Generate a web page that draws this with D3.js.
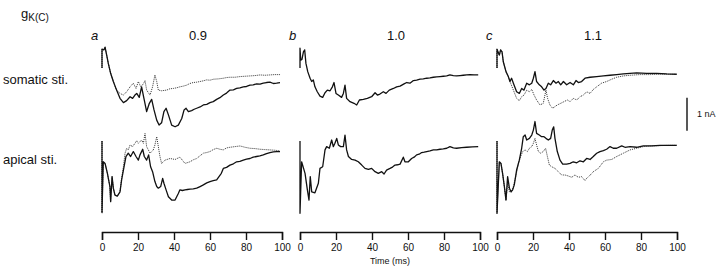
<!DOCTYPE html>
<html>
<head>
<meta charset="utf-8">
<script src="https://cdn.jsdelivr.net/npm/d3@7"></script>
<style>
  body { margin: 0; background: #fff; }
  text { font-family: "Liberation Sans", Arial, sans-serif; fill: #111; }
</style>
</head>
<body>
<div id="container"></div>
<script>
let w = 720;
let h = 270;

// time ticks (ms)
let timeTicks = [0, 20, 40, 60, 80, 100];
let panelLetters = ['a', 'b', 'c'];
let panelRatios = ['0.9', '1.0', '1.1'];
let rowLabels = ['somatic sti.', 'apical sti.'];

// traces: [time (ms), current (nA)]
let somaA = [[0,0],[0,0.57],[1.1,0.55],[1.7,0.63],[2.6,0.39],[3.5,0.14],[4.8,-0.16],[6.3,-0.41],[8.1,-0.67],[10,-0.92],[11.9,-1.05],[13.7,-0.99],[15.6,-0.87],[17,-0.92],[18.3,-0.82],[19.3,-0.77],[20.7,-0.89],[22,-0.57],[23.3,-0.92],[24.8,-1.32],[26.3,-1.07],[27.6,-0.95],[28.9,-1.27],[30.4,-1.58],[31.7,-1.73],[33.1,-1.66],[34.4,-1.32],[35.6,-1.22],[36.9,-1.42],[38.7,-1.73],[40.6,-1.78],[42.4,-1.73],[44.3,-1.53],[45.6,-1.27],[46.7,-1.22],[48,-1.32],[49.8,-1.29],[51.2,-1.25],[52.6,-1.22],[54.5,-1.18],[56.3,-1.12],[58.2,-1.1],[60,-1.05],[61.8,-1.02],[63.7,-0.95],[65.5,-0.9],[67.4,-0.82],[69.2,-0.76],[71.1,-0.67],[73,-0.66],[74.8,-0.62],[76.6,-0.6],[78.5,-0.57],[80.3,-0.56],[82.2,-0.52],[84,-0.51],[85.9,-0.48],[87.8,-0.49],[89.6,-0.46],[91.4,-0.44],[93.3,-0.43],[95.2,-0.47],[97,-0.46],[98.9,-0.44]];
let somaA2 = [[0,0],[0,0.57],[1.1,0.55],[1.7,0.63],[2.6,0.39],[3.5,0.14],[4.8,-0.16],[6.3,-0.41],[8.1,-0.67],[10,-0.77],[11.9,-0.82],[13.7,-0.72],[15.6,-0.57],[17.4,-0.46],[18.9,-0.62],[20.2,-0.41],[21.5,-0.57],[23,-0.48],[23.9,-0.38],[24.8,-0.67],[26.7,-0.82],[28.1,-0.57],[29.4,-0.21],[30.4,-0.41],[31.3,-0.67],[33.1,-0.69],[35.9,-0.67],[37.7,-0.63],[39.6,-0.62],[41.5,-0.6],[43.3,-0.57],[45.1,-0.55],[47,-0.52],[48.8,-0.47],[50.7,-0.44],[52.6,-0.43],[54.4,-0.41],[56.2,-0.39],[58.1,-0.36],[60,-0.37],[61.9,-0.34],[64.6,-0.33],[67.4,-0.31],[69.2,-0.29],[71.1,-0.28],[73.9,-0.28],[76.7,-0.26],[79.4,-0.25],[82.2,-0.24],[85,-0.23],[87.8,-0.21],[90.5,-0.22],[93.3,-0.21],[96,-0.2],[98.9,-0.2]];
let apicA = [[0,0],[0,-2.17],[0.7,-0.63],[1.7,-0.68],[3,-0.98],[4.4,-1.38],[4.8,-1.84],[5.6,-1.08],[6.3,-1.43],[7.2,-1.64],[8.5,-1.67],[10,-1.54],[10.9,-1.18],[11.9,-0.88],[13.3,-0.47],[14.6,-0.37],[15.9,-0.47],[17.4,-0.32],[18.9,-0.47],[20.2,-0.58],[21.1,-0.42],[22.6,-0.25],[23.5,-0.47],[24.8,-0.58],[25.9,-0.42],[27,-0.78],[28.1,-0.93],[29.4,-1.23],[30.4,-1.38],[31.3,-1.43],[32.6,-1.38],[33.7,-1.13],[34.4,-1.28],[35.6,-1.48],[36.9,-1.69],[38.7,-1.79],[40.6,-1.79],[42.4,-1.59],[43.3,-1.48],[44.7,-1.5],[46.1,-1.48],[47.5,-1.47],[48.9,-1.46],[50.7,-1.45],[52.6,-1.43],[54.5,-1.38],[56.3,-1.33],[58.2,-1.27],[60,-1.23],[61.8,-1.2],[63.7,-1.18],[65,-1.08],[66.3,-0.98],[67.4,-0.83],[69.2,-0.8],[71.1,-0.73],[73,-0.69],[74.8,-0.63],[76.6,-0.62],[78.5,-0.58],[80.3,-0.55],[82.2,-0.53],[84,-0.49],[85.9,-0.47],[87.7,-0.45],[89.6,-0.42],[91.4,-0.38],[93.3,-0.35],[95.2,-0.33],[97,-0.32],[98.9,-0.32]];
let apicA2 = [[0,0],[0,-2.17],[0.7,-0.63],[1.7,-0.68],[3,-0.98],[4.4,-1.38],[4.8,-1.84],[5.6,-1.08],[6.3,-1.43],[7.2,-1.64],[8.5,-1.67],[10,-1.54],[10.9,-1.13],[11.9,-0.78],[12.8,-0.37],[13.7,-0.22],[14.6,-0.27],[15.6,-0.12],[17,-0.17],[18.3,-0.07],[19.3,0.01],[20.2,-0.07],[21.1,-0.02],[22,0.03],[23,-0.07],[23.9,0.23],[24.8,-0.17],[26.7,-0.37],[28.5,-0.27],[29.4,-0.12],[30.4,0.13],[31.3,-0.17],[32.2,-0.47],[33.1,-0.68],[35,-0.58],[37.8,-0.53],[40.6,-0.56],[43.3,-0.49],[46.1,-0.68],[48.9,-0.63],[50.7,-0.57],[52.6,-0.53],[54.4,-0.45],[56.3,-0.37],[58.1,-0.35],[60,-0.32],[61.8,-0.26],[63.7,-0.22],[65.5,-0.25],[67.4,-0.27],[69.2,-0.21],[71.1,-0.19],[73.9,-0.17],[76.7,-0.15],[79.4,-0.19],[82.2,-0.22],[85,-0.23],[87.8,-0.25],[90.5,-0.26],[93.3,-0.27],[96,-0.28],[98.9,-0.3]];

let somaB = [[0,0],[0,0.6],[0.4,0.24],[1.1,0.26],[1.9,0.49],[2.6,0.55],[3.3,0.14],[4.3,-0.11],[5.6,-0.31],[6.5,-0.41],[7.4,-0.36],[8.3,-0.57],[9.6,-0.72],[11.1,-0.85],[12.6,-0.89],[13.9,-0.75],[15.2,-0.67],[16.7,-0.69],[18,-0.57],[18.9,-0.44],[20,-0.77],[21.3,-0.82],[23.1,-0.89],[24.1,-0.77],[25,-0.52],[25.9,-0.92],[27.8,-1.02],[30,-1.07],[31.5,-1.12],[33,-0.97],[35.2,-0.95],[37.4,-0.92],[39.8,-0.87],[41.7,-0.75],[43,-0.82],[44.4,-0.79],[46.3,-0.72],[47.8,-0.77],[49.6,-0.67],[51.9,-0.62],[53.7,-0.57],[55.6,-0.55],[57.8,-0.48],[59.3,-0.44],[61.1,-0.46],[63,-0.38],[64.8,-0.37],[66.7,-0.34],[68.5,-0.33],[70.4,-0.31],[72.2,-0.3],[74.1,-0.28],[75.9,-0.27],[77.8,-0.26],[79.6,-0.25],[81.5,-0.24],[83.3,-0.21],[85.2,-0.23],[87,-0.24],[88.9,-0.23],[90.7,-0.22],[92.6,-0.21],[94.4,-0.2],[96.7,-0.21],[99,-0.21]];
let apicB = [[0,0],[0,-2.19],[0.9,-0.63],[2.8,-0.98],[4.1,-1.48],[5,-1.79],[5.7,-1.08],[6.5,-1.54],[8.3,-1.57],[10.2,-1.28],[11.1,-0.83],[12.6,-0.78],[13.9,-0.27],[14.8,-0.17],[16.3,-0.22],[17.6,0.03],[18.5,-0.17],[19.4,-0.07],[20.4,0.08],[21.3,-0.12],[22.6,-0.17],[24.1,-0.17],[25,0.18],[25.9,-0.27],[26.9,-0.47],[28.7,-0.56],[30.6,-0.58],[32.4,-0.63],[34.3,-0.73],[36.1,-0.83],[38,-0.86],[39.8,-0.83],[41.7,-0.93],[43.5,-0.98],[45.4,-0.93],[46.7,-1],[48.1,-0.88],[50,-0.83],[51.4,-0.79],[52.8,-0.73],[54.2,-0.72],[55.6,-0.7],[57.4,-0.49],[58.3,-0.63],[60.2,-0.63],[62,-0.53],[63.4,-0.49],[64.8,-0.42],[66.2,-0.4],[67.6,-0.35],[69,-0.34],[70.4,-0.32],[72.2,-0.3],[74.1,-0.27],[75.9,-0.27],[77.8,-0.25],[79.6,-0.24],[81.5,-0.22],[83.3,-0.17],[85.2,-0.21],[87,-0.22],[89.8,-0.2],[92.6,-0.19],[95.8,-0.18],[99,-0.17]];

let somaC = [[0,0],[0,0.57],[1.3,0.39],[2,0.55],[2.8,0.49],[3.5,0.19],[5,-0.11],[6.3,-0.26],[7.2,-0.41],[8.1,-0.31],[9.1,-0.46],[10.9,-0.72],[12.4,-0.77],[13.7,-0.62],[15,-0.67],[16.5,-0.46],[18,-0.51],[19.3,-0.46],[20.2,-0.31],[21.1,-0.11],[22,-0.41],[23.5,-0.51],[24.8,-0.57],[26.1,-0.67],[27.2,-0.62],[28.5,-0.46],[29.8,-0.51],[31.3,-0.38],[32.8,-0.46],[34.1,-0.41],[35.4,-0.51],[36.9,-0.41],[38.7,-0.51],[40.6,-0.44],[42.4,-0.51],[43.9,-0.38],[45.2,-0.44],[47,-0.41],[48.9,-0.31],[51.7,-0.28],[55.4,-0.26],[59.1,-0.24],[62.8,-0.22],[66.5,-0.2],[70.2,-0.18],[73.9,-0.16],[77.6,-0.15],[83.1,-0.16],[88.7,-0.16],[94.3,-0.18],[99.8,-0.19]];
let somaC2 = [[0,0],[0,0.57],[1.3,0.39],[2,0.55],[2.8,0.49],[3.5,0.19],[5,-0.11],[6.3,-0.26],[7.2,-0.41],[9.1,-0.67],[10.9,-0.92],[12.4,-0.99],[13.7,-0.87],[15,-0.82],[16.5,-0.67],[18,-0.72],[19.3,-0.65],[20.6,-0.82],[22,-0.97],[23.9,-1.12],[25.7,-1.07],[27.2,-0.67],[28.1,-0.92],[29.4,-1.12],[30.9,-1.22],[32.2,-1.17],[33.5,-1.12],[35.4,-1.07],[37.2,-1.02],[39.1,-0.97],[40.6,-1.02],[42.4,-0.92],[44.3,-0.97],[46.1,-0.87],[48,-0.82],[49.8,-0.72],[51.7,-0.77],[53.5,-0.65],[55.4,-0.57],[58.1,-0.46],[60.9,-0.41],[63.7,-0.34],[66.5,-0.28],[70.2,-0.24],[73.9,-0.22],[79.4,-0.2],[85,-0.2],[90.6,-0.19],[96.1,-0.19],[99.8,-0.19]];
let apicC = [[0,0],[0,-2.19],[1.3,-0.63],[2.2,-0.68],[3.1,-0.98],[4.1,-1.38],[5,-1.79],[5.9,-1.08],[6.9,-1.43],[7.8,-1.54],[8.7,-1.48],[9.6,-1.33],[10.9,-0.88],[12.4,-0.58],[13.7,-0.22],[14.6,0.13],[15.6,0.18],[16.5,0.03],[18,0.08],[19.3,0.18],[20.2,0.33],[21.1,0.59],[22,0.23],[23.5,0.18],[24.8,0.13],[26.1,0.13],[27.2,0.08],[28.5,0.03],[29.8,0.08],[30.7,0.33],[31.5,0.43],[32.2,0.08],[33.5,-0.32],[35,-0.58],[36.5,-0.7],[38.7,-0.7],[40.6,-0.68],[42.4,-0.63],[44.3,-0.66],[46.1,-0.6],[48,-0.63],[49.8,-0.53],[51.7,-0.56],[53.5,-0.47],[55.4,-0.37],[57.2,-0.32],[59.1,-0.29],[60.9,-0.25],[62.8,-0.17],[64.6,-0.22],[66.5,-0.22],[69.3,-0.15],[71.1,-0.19],[73.9,-0.17],[77.6,-0.19],[81.3,-0.15],[85.9,-0.15],[90.6,-0.13],[96.1,-0.13],[99.8,-0.13]];
let apicC2 = [[0,0],[0,-2.19],[1.3,-0.63],[2.2,-0.68],[3.1,-0.98],[4.1,-1.38],[5,-1.79],[5.9,-1.28],[6.9,-1.54],[8.1,-1.54],[9.1,-1.38],[10.6,-1.03],[11.9,-0.68],[13.1,-0.47],[14.3,-0.32],[15.6,-0.27],[16.9,-0.32],[18,-0.22],[19.3,-0.17],[20.2,-0.07],[21.1,0.08],[22,-0.12],[23,-0.32],[24.3,-0.37],[25.7,-0.32],[27,-0.22],[28,-0.47],[29.1,-0.73],[30.4,-0.78],[32.2,-0.83],[34.1,-0.93],[35.9,-1.03],[37.8,-1.03],[39.6,-1.06],[41.5,-1.1],[43.3,-1.03],[45.2,-1.1],[47,-1.08],[48.9,-1.2],[49.8,-1.13],[51.3,-1.06],[53.5,-0.93],[56.3,-0.83],[59.1,-0.63],[60.9,-0.58],[63.7,-0.56],[66.5,-0.47],[70.2,-0.37],[73.9,-0.27],[77.6,-0.22],[81.3,-0.17],[85.9,-0.15],[90.6,-0.14],[96.1,-0.13],[99.8,-0.13]];

// one entry per panel: [solid, dotted] for each row
let somaTraces = [[somaA, somaA2], [somaB, null], [somaC, somaC2]];
let apicTraces = [[apicA, apicA2], [apicB, null], [apicC, apicC2]];

let panelX = [102, 300, 497];
let panelW = 180;
let rowZero = [68, 141];
let pxPerNA = 33;

let viz = d3.select("#container")
  .append("svg")
  .attr("width", w)
  .attr("height", h);

// y scales, one per row (current in nA)
let yScales = rowZero.map(z => d3.scaleLinear().domain([-2, 1]).range([z + 2 * pxPerNA, z - pxPerNA]));

// title
let title = viz.append('text').attr('x', 21).attr('y', 18).attr('font-size', 13);
title.append('tspan').text('g');
title.append('tspan').attr('font-size', 10).attr('dy', 3).text('K(C)');

// row labels
viz.append('text').attr('x', 3).attr('y', 84).attr('font-size', 13).text(rowLabels[0]);
viz.append('text').attr('x', 3).attr('y', 164).attr('font-size', 13).text(rowLabels[1]);

let line = d3.line();

for (let i = 0; i < 3; i++) {
  let xScale = d3.scaleLinear().domain([0, 100]).range([panelX[i], panelX[i] + panelW]);

  viz.append('text')
    .attr('x', panelX[i] - 11).attr('y', 40)
    .attr('font-size', 13).attr('font-style', 'italic')
    .text(panelLetters[i]);
  viz.append('text')
    .attr('x', panelX[i] + panelW / 2 + 6).attr('y', 40)
    .attr('font-size', 13).attr('text-anchor', 'middle')
    .text(panelRatios[i]);

  let rows = [somaTraces[i], apicTraces[i]];
  rows.forEach((pair, r) => {
    let y = yScales[r];
    line.x(d => xScale(d[0])).y(d => y(d[1]));
    if (pair[1]) {
      viz.append('path')
        .attr('d', line(pair[1]))
        .attr('fill', 'none')
        .attr('stroke', '#333')
        .attr('stroke-width', 1)
        .attr('stroke-dasharray', '1,1');
    }
    viz.append('path')
      .attr('d', line(pair[0]))
      .attr('fill', 'none')
      .attr('stroke', '#111')
      .attr('stroke-width', 1.3)
      .attr('stroke-linejoin', 'round');
  });

  // time axis
  let xAxis = d3.axisBottom(xScale).tickValues(timeTicks).tickSize(8).tickSizeOuter(8);
  let xAxisGroup = viz.append('g').attr('class', 'xaxis')
    .attr('transform', 'translate(0,232)')
    .call(xAxis);
  xAxisGroup.select('.domain').attr('stroke', '#111').attr('stroke-width', 1.4);
  xAxisGroup.selectAll('.tick line').attr('stroke', '#111').attr('stroke-width', 1.4);
  xAxisGroup.selectAll('.tick text')
    .attr('font-family', '"Liberation Sans", Arial, sans-serif')
    .attr('font-size', 10)
    .attr('fill', '#111')
    .attr('dy', '0.9em')
    .attr('y', 10);
}

viz.append('text')
  .attr('x', panelX[1] + panelW / 2).attr('y', 264)
  .attr('font-size', 9).attr('text-anchor', 'middle')
  .text('Time (ms)');

// 1 nA scale bar
let ys = yScales[0];
viz.append('line')
  .attr('x1', 687).attr('x2', 687)
  .attr('y1', ys(-0.9)).attr('y2', ys(-1.9))
  .attr('stroke', '#111').attr('stroke-width', 1.4);
viz.append('text')
  .attr('x', 697).attr('y', (ys(-0.9) + ys(-1.9)) / 2 + 3)
  .attr('font-size', 9)
  .text('1 nA');
</script>
</body>
</html>
